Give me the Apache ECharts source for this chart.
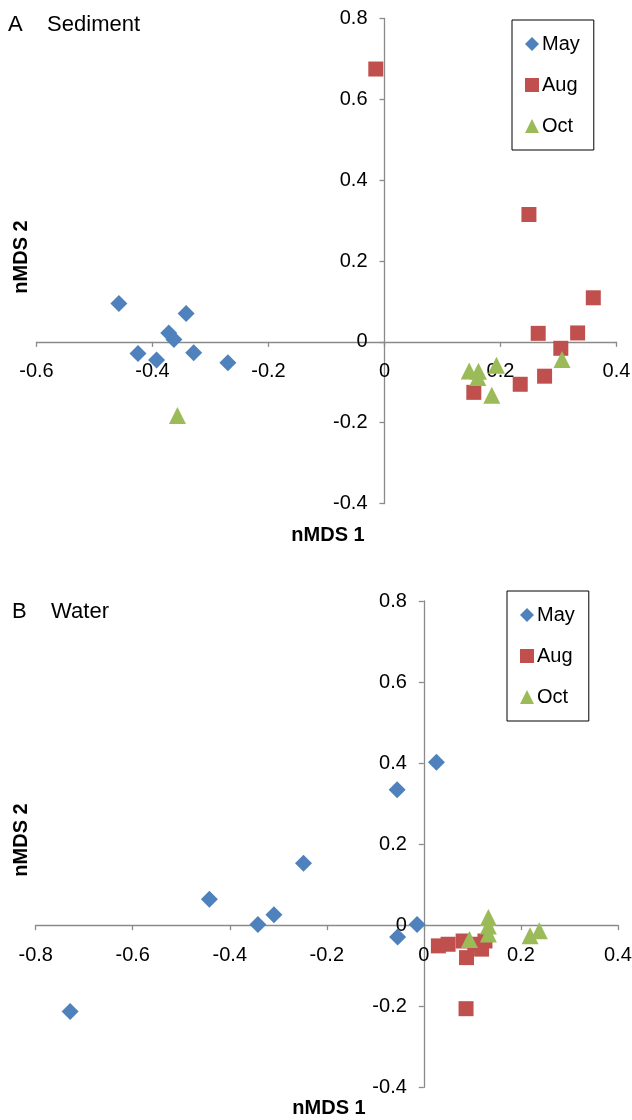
<!DOCTYPE html>
<html><head><meta charset="utf-8">
<script src="https://cdn.jsdelivr.net/npm/echarts@6/dist/echarts.min.js"></script>
<style>html,body{margin:0;padding:0;background:#fff}#c{width:632px;height:1120px}</style>
</head><body><div id="c"></div>
<script>
// ---- data ----
const seriesNames = ['May', 'Aug', 'Oct'];
const panelTitles = ['A    Sediment', 'B    Water'];
const axisTitles = ['nMDS 1', 'nMDS 2'];
const xRangeA = [-0.6, 0.4];
const xRangeB = [-0.8, 0.4];
const yRange = [-0.4, 0.8];
const tickStep = 0.2;

// Panel A: Sediment
const sedMayX = [-0.458, -0.342, -0.372, -0.363, -0.425, -0.393, -0.329, -0.270];
const sedMayY = [0.095, 0.070, 0.022, 0.006, -0.029, -0.045, -0.027, -0.052];
const sedAugX = [-0.015, 0.249, 0.360, 0.265, 0.333, 0.304, 0.276, 0.234, 0.154];
const sedAugY = [0.675, 0.315, 0.109, 0.021, 0.022, -0.016, -0.085, -0.105, -0.125];
const sedOctX = [-0.357, 0.146, 0.162, 0.161, 0.193, 0.185, 0.306];
const sedOctY = [-0.182, -0.072, -0.073, -0.088, -0.058, -0.132, -0.044];

// Panel B: Water
const watMayX = [0.026, -0.055, -0.248, -0.442, -0.309, -0.342, -0.014, -0.054, -0.729];
const watMayY = [0.402, 0.334, 0.153, 0.064, 0.026, 0.002, 0.002, -0.029, -0.213];
const watAugX = [0.030, 0.050, 0.081, 0.088, 0.105, 0.126, 0.119, 0.087];
const watAugY = [-0.051, -0.047, -0.039, -0.080, -0.047, -0.039, -0.059, -0.206];
const watOctX = [0.133, 0.133, 0.133, 0.094, 0.219, 0.238];
const watOctY = [0.019, -0.002, -0.022, -0.035, -0.026, -0.014];

// ---- styles / layout ----
const colors = ['#4F81BD', '#C0504D', '#9BBB59'];
const symbols = ['diamond', 'rect', 'triangle'];
const symbolSizes = [17, 15, 17];
const FONT = "'Liberation Sans', Arial, Helvetica, sans-serif";
const AXIS_COLOR = '#8a8a8a';
const grids = [
  { left: 36.5, top: 18.5, width: 580, height: 485 },
  { left: 35.7, top: 601, width: 582.2, height: 486.3 }
];

function zip(xs, ys) { return xs.map((x, i) => [x, ys[i]]); }

// axes drawn through zero of the other axis (via negative offset)
function xAxisCfg(range, gi) {
  const g = grids[gi];
  const off = -g.height * (0 - yRange[0]) / (yRange[1] - yRange[0]);
  return {
    type: 'value', gridIndex: gi, min: range[0], max: range[1], interval: tickStep,
    position: 'bottom', offset: off,
    axisLine: { show: true, onZero: false, lineStyle: { color: AXIS_COLOR, width: 1.3 } },
    axisTick: { show: true, inside: false, length: 5, lineStyle: { color: AXIS_COLOR, width: 1.3 } },
    axisLabel: { color: '#000', fontSize: 20, fontFamily: FONT, margin: 20, hideOverlap: false },
    splitLine: { show: false }
  };
}
function yAxisCfg(range, gi) {
  const g = grids[gi];
  const off = -g.width * (0 - range[0]) / (range[1] - range[0]);
  return {
    type: 'value', gridIndex: gi, min: yRange[0], max: yRange[1], interval: tickStep,
    position: 'left', offset: off,
    axisLine: { show: true, onZero: false, lineStyle: { color: AXIS_COLOR, width: 1.3 } },
    axisTick: { show: true, inside: false, length: 5, lineStyle: { color: AXIS_COLOR, width: 1.3 } },
    axisLabel: { color: '#000', fontSize: 20, fontFamily: FONT, margin: 17, hideOverlap: false },
    splitLine: { show: false }
  };
}

const panels = [
  [zip(sedMayX, sedMayY), zip(sedAugX, sedAugY), zip(sedOctX, sedOctY)],
  [zip(watMayX, watMayY), zip(watAugX, watAugY), zip(watOctX, watOctY)]
];

const series = [];
panels.forEach((p, gi) => {
  p.forEach((d, si) => {
    series.push({
      type: 'scatter', name: seriesNames[si], xAxisIndex: gi, yAxisIndex: gi,
      data: d, symbol: symbols[si], symbolSize: symbolSizes[si],
      itemStyle: { color: colors[si], opacity: 1 },
      emphasis: { disabled: true }, z: 3 + si
    });
  });
});

function legendCfg(left, top) {
  return {
    data: seriesNames, orient: 'vertical', left: left, top: top,
    borderColor: '#000', borderWidth: 1, padding: [14, 14, 14, 13],
    itemWidth: 14, itemHeight: 14, itemGap: 21,
    textStyle: { color: '#000', fontSize: 20, fontFamily: FONT, lineHeight: 20, padding: [0, 0, 0, -2] },
    selectedMode: false
  };
}

const chart = echarts.init(document.getElementById('c'), null, { renderer: 'canvas' });
chart.setOption({
  backgroundColor: '#fff',
  animation: false,
  title: [
    { text: panelTitles[0], left: 8, top: 14, padding: 0, textStyle: { fontSize: 22, fontWeight: 'normal', color: '#000', fontFamily: FONT } },
    { text: panelTitles[1], left: 12, top: 601, padding: 0, textStyle: { fontSize: 22, fontWeight: 'normal', color: '#000', fontFamily: FONT } }
  ],
  legend: [legendCfg(512, 20), legendCfg(507, 591)],
  grid: grids.map(g => Object.assign({ outerBoundsMode: 'none', containLabel: false }, g)),
  xAxis: [xAxisCfg(xRangeA, 0), xAxisCfg(xRangeB, 1)],
  yAxis: [yAxisCfg(xRangeA, 0), yAxisCfg(xRangeB, 1)],
  series: series,
  graphic: [
    { type: 'text', x: 328, y: 535, style: { text: axisTitles[0], font: 'bold 20px ' + FONT, fill: '#000', align: 'center', verticalAlign: 'middle' } },
    { type: 'text', x: 329, y: 1108, style: { text: axisTitles[0], font: 'bold 20px ' + FONT, fill: '#000', align: 'center', verticalAlign: 'middle' } },
    { type: 'text', x: 21, y: 257, rotation: Math.PI / 2, style: { text: axisTitles[1], font: 'bold 20px ' + FONT, fill: '#000', align: 'center', verticalAlign: 'middle' } },
    { type: 'text', x: 21, y: 840, rotation: Math.PI / 2, style: { text: axisTitles[1], font: 'bold 20px ' + FONT, fill: '#000', align: 'center', verticalAlign: 'middle' } }
  ]
});
</script>
</body></html>
